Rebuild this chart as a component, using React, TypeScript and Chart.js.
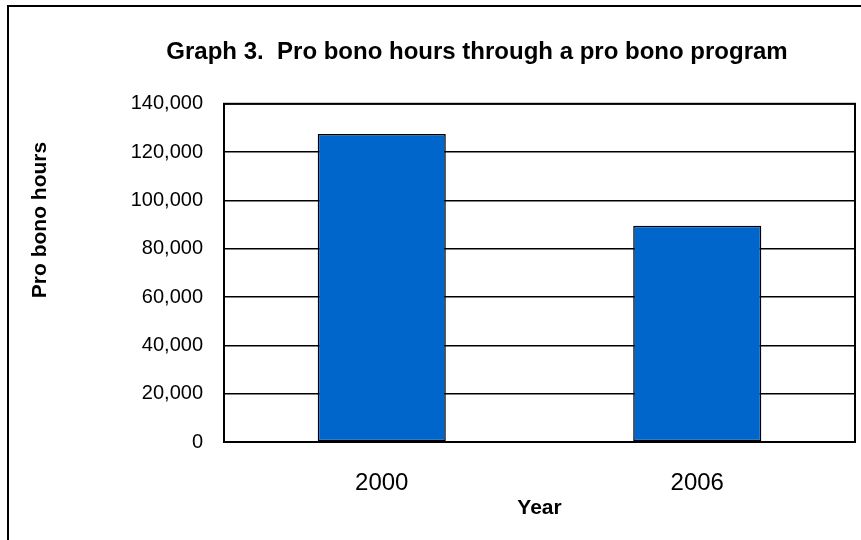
import React, { useEffect, useRef } from "react";
import { Chart, registerables } from "chart.js";

Chart.register(...registerables);

// Survey years and the matching pro bono hours
const years: string[] = ["2000", "2006"];
const proBonoHours: number[] = [127500, 89500];

// Value axis
const yMin = 0;
const yMax = 140000;
const yStep = 20000;

const titleText = "Graph 3.  Pro bono hours through a pro bono program";
const xAxisText = "Year";
const yAxisText = "Pro bono hours";

const FONT = "'Liberation Sans', Arial, Helvetica, sans-serif";

// Frame around the plot area plus the rotated value-axis caption
const framePlugin = {
  id: "plotFrame",
  afterDatasetsDraw(chart: any) {
    const { ctx, chartArea } = chart;
    ctx.save();
    ctx.strokeStyle = "#000";
    ctx.lineWidth = 2;
    ctx.strokeRect(
      chartArea.left,
      chartArea.top,
      chartArea.right - chartArea.left,
      chartArea.bottom - chartArea.top
    );
    ctx.restore();
  },
  afterDraw(chart: any) {
    const { ctx } = chart;
    ctx.save();
    ctx.translate(40, 220);
    ctx.rotate(-Math.PI / 2);
    ctx.fillStyle = "#000";
    ctx.font = `bold 21px ${FONT}`;
    ctx.textAlign = "center";
    ctx.textBaseline = "middle";
    ctx.fillText(yAxisText, 0, 0);
    ctx.restore();
  },
};

export default function App() {
  const canvasRef = useRef<HTMLCanvasElement | null>(null);

  useEffect(() => {
    if (!canvasRef.current) return;
    const chart = new Chart(canvasRef.current, {
      type: "bar",
      data: {
        labels: years,
        datasets: [
          {
            label: yAxisText,
            data: proBonoHours,
            backgroundColor: "#0066CC",
            borderColor: "#000",
            borderWidth: 1.5,
            borderSkipped: false,
            categoryPercentage: 1,
            barPercentage: 0.406,
          },
        ],
      },
      options: {
        responsive: false,
        animation: false,
        layout: { padding: { left: 99, right: 99, top: 0, bottom: 0 } },
        plugins: {
          legend: { display: false },
          tooltip: { enabled: false },
          title: {
            display: true,
            text: titleText,
            color: "#000",
            font: { family: FONT, size: 24, weight: "bold" },
            padding: { top: 38, bottom: 37 },
          },
        },
        scales: {
          x: {
            grid: { display: false, drawTicks: false },
            border: { display: false },
            ticks: {
              color: "#000",
              font: { family: FONT, size: 24 },
              padding: 27,
            },
            title: {
              display: true,
              text: xAxisText,
              color: "#000",
              font: { family: FONT, size: 21, weight: "bold" },
              padding: { top: 0, bottom: 19 },
            },
            afterFit(scale: any) {
              scale.height = 540 - 442;
            },
          },
          y: {
            min: yMin,
            max: yMax,
            grid: {
              color: "#000",
              lineWidth: 1.5,
              drawTicks: false,
            },
            border: { display: false },
            ticks: {
              stepSize: yStep,
              color: "#000",
              font: { family: FONT, size: 20 },
              padding: 21,
              callback: (v: any) => Number(v).toLocaleString("en-US"),
            },
            afterFit(scale: any) {
              scale.width = 224 - 99;
            },
          },
        },
      },
      plugins: [framePlugin],
    });
    return () => chart.destroy();
  }, []);

  return (
    <div
      style={{
        position: "fixed",
        left: 0,
        top: 0,
        width: 861,
        height: 540,
        overflow: "hidden",
        background: "#fff",
      }}
    >
      <canvas
        ref={canvasRef}
        width={954}
        height={540}
        style={{ position: "absolute", left: 0, top: 0, width: 954, height: 540 }}
      />
      <div
        style={{
          position: "absolute",
          left: 7,
          top: 5,
          width: 900,
          height: 600,
          borderLeft: "2px solid #000",
          borderTop: "2px solid #000",
          pointerEvents: "none",
        }}
      />
    </div>
  );
}
